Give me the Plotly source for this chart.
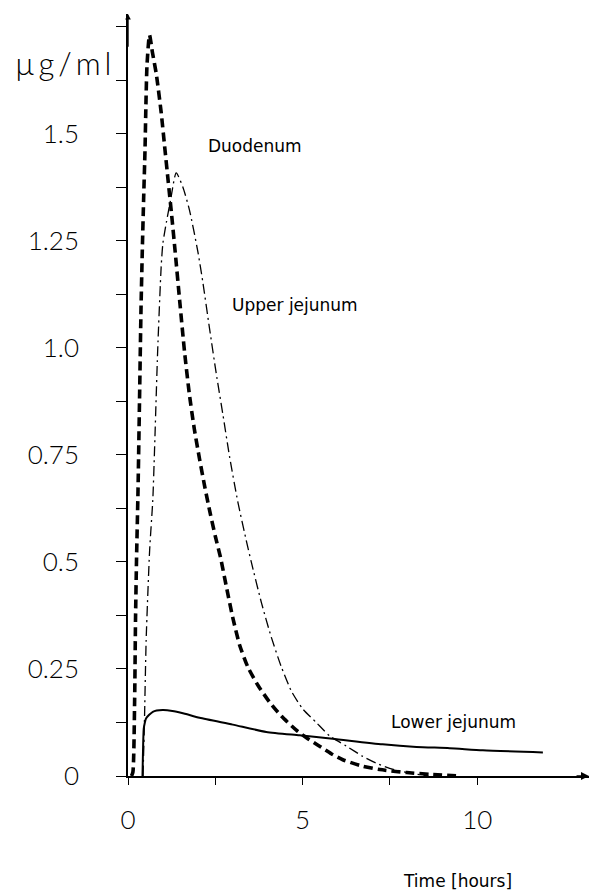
import plotly.graph_objects as go

# ---- data (time in hours, concentration in µg/ml) ----
duo_t = [0.10, 0.14, 0.19, 0.215, 0.244, 0.287, 0.33, 0.372, 0.41, 0.447, 0.487, 0.516, 0.544, 0.616,
         0.70, 0.81, 0.95, 1.05, 1.15, 1.25, 1.35, 1.48, 1.62, 1.76, 1.90, 2.05, 2.20, 2.35, 2.50,
         2.65, 2.81, 3.0, 3.2, 3.43, 3.72, 4.05, 4.39, 4.82, 5.1, 5.44, 5.82, 6.15, 6.72, 7.21, 7.98,
         8.64, 9.5]
duo_v = [0.0, 0.009, 0.178, 0.364, 0.505, 0.668, 0.879, 1.089, 1.229, 1.346, 1.463, 1.579, 1.661, 1.731,
         1.69, 1.64, 1.55, 1.47, 1.39, 1.31, 1.225, 1.11, 0.99, 0.89, 0.81, 0.74, 0.675, 0.615, 0.56,
         0.51, 0.445, 0.37, 0.305, 0.255, 0.212, 0.173, 0.14, 0.107, 0.09, 0.072, 0.052, 0.038, 0.023,
         0.015, 0.008, 0.004, 0.0]

upj_t = [0.43, 0.47, 0.52, 0.62, 0.71, 0.76, 0.85, 0.95, 1.0, 1.10, 1.22, 1.38, 1.57, 1.76, 2.0, 2.14,
         2.335, 2.527, 2.716, 2.91, 3.146, 3.387, 3.53, 3.82, 4.10, 4.39, 4.68, 5.01, 5.39, 5.77, 6.25,
         6.72, 7.11, 7.49, 8.0, 8.6]
upj_v = [0.0, 0.124, 0.318, 0.528, 0.645, 0.762, 0.995, 1.19, 1.245, 1.294, 1.346, 1.409, 1.376, 1.322,
         1.225, 1.155, 1.045, 0.94, 0.845, 0.745, 0.64, 0.55, 0.50, 0.405, 0.325, 0.255, 0.198, 0.156,
         0.125, 0.094, 0.07, 0.046, 0.03, 0.018, 0.008, 0.0]

lowj_t = [0.415, 0.43, 0.45, 0.48, 0.52, 0.71, 0.99, 1.27, 1.6, 2.05, 3.0, 3.96, 4.91, 5.86, 7.29, 8.26,
          9.21, 10.16, 11.88]
lowj_v = [0.0, 0.06, 0.11, 0.124, 0.135, 0.15, 0.154, 0.152, 0.146, 0.136, 0.12, 0.103, 0.095, 0.087,
          0.074, 0.068, 0.065, 0.06, 0.055]

y_tickvals = [0, 0.125, 0.25, 0.375, 0.5, 0.625, 0.75, 0.875, 1.0, 1.125, 1.25, 1.375, 1.5, 1.625, 1.75]
y_ticktext = ["0", "", "0.25", "", "0.5", "", "0.75", "", "1.0", "", "1.25", "", "1.5", "", ""]
x_tickvals = [0, 2.5, 5, 7.5, 10]
x_ticktext = ["0", "", "5", "", "10"]

series_labels = ["Duodenum", "Upper jejunum", "Lower jejunum"]
x_title = "Time [hours]"
y_title = "µ\u2009g\u2009/\u2009m\u2009l"

NUMFONT = dict(family="Lato", size=26, color="black", weight=300)
TXTFONT = dict(family="DejaVu Sans", size=17, color="black")

fig = go.Figure()
fig.add_trace(go.Scatter(x=duo_t, y=duo_v, mode="lines", name=series_labels[0],
                         line=dict(color="black", width=3.6, dash="9px,5px", shape="spline", smoothing=0.6)))
fig.add_trace(go.Scatter(x=upj_t, y=upj_v, mode="lines", name=series_labels[1],
                         line=dict(color="black", width=1.3, dash="10px,4px,2px,4px", shape="spline", smoothing=0.6)))
fig.add_trace(go.Scatter(x=lowj_t, y=lowj_v, mode="lines", name=series_labels[2],
                         line=dict(color="black", width=2.0, shape="spline", smoothing=0.6)))

fig.update_layout(
    width=591, height=892,
    margin=dict(l=128, r=2, t=14, b=116),
    paper_bgcolor="white", plot_bgcolor="white",
    showlegend=False,
)
fig.update_xaxes(range=[0, 13.2], showgrid=False, zeroline=False, showline=True, linecolor="black",
                 linewidth=1.6, ticks="outside", ticklen=7, tickwidth=1.4, tickcolor="black",
                 tickvals=x_tickvals, ticktext=x_ticktext, tickfont=NUMFONT, ticklabelstandoff=13)
fig.update_yaxes(range=[0, 1.78], showgrid=False, zeroline=False, showline=True, linecolor="black",
                 linewidth=1.6, ticks="outside", ticklen=10, tickwidth=1.4, tickcolor="black",
                 tickvals=y_tickvals, ticktext=y_ticktext, tickfont=NUMFONT, ticklabelstandoff=32)

# axis arrowheads
fig.add_annotation(x=13.2, y=0, ax=12.8, ay=0, xref="x", yref="y", axref="x", ayref="y",
                   text="", showarrow=True, arrowhead=2, arrowsize=1, arrowwidth=1.6, arrowcolor="black")
fig.add_annotation(x=0, y=1.78, ax=0, ay=1.70, xref="x", yref="y", axref="x", ayref="y",
                   text="", showarrow=True, arrowhead=2, arrowsize=0.8, arrowwidth=1.4, arrowcolor="black")

# curve labels
fig.add_annotation(x=3.64, y=1.472, xref="x", yref="y", text=series_labels[0], showarrow=False,
                   font=TXTFONT, xanchor="center", yanchor="middle")
fig.add_annotation(x=4.77, y=1.10, xref="x", yref="y", text=series_labels[1], showarrow=False,
                   font=TXTFONT, xanchor="center", yanchor="middle")
fig.add_annotation(x=9.31, y=0.126, xref="x", yref="y", text=series_labels[2], showarrow=False,
                   font=TXTFONT, xanchor="center", yanchor="middle")
# axis titles (paper coords: plot area x 128..589, y 14..776)
fig.add_annotation(x=0.7137, y=-0.1378, xref="paper", yref="paper", text=x_title, showarrow=False,
                   font=TXTFONT, xanchor="center", yanchor="middle")
fig.add_annotation(x=-0.141, y=0.9357, xref="paper", yref="paper", text=y_title, showarrow=False,
                   font=dict(family="Lato", size=31, color="black", weight=300),
                   xanchor="center", yanchor="middle")

fig.write_html("out.html", config={"displayModeBar": False},
               post_script="document.body.style.margin='0px';")
